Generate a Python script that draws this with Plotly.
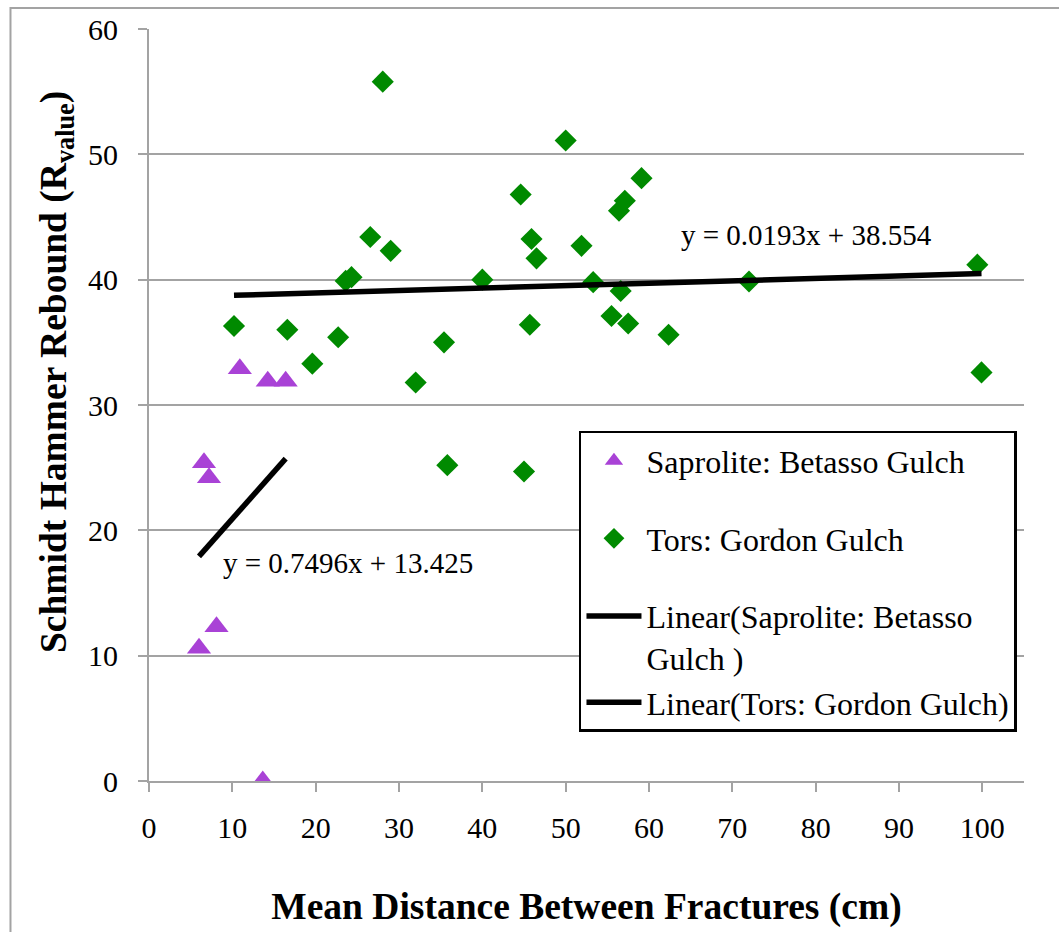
import numpy as np
import plotly.graph_objects as go

# ---- Data ----
sap_x = [6.0, 8.1, 6.6, 7.2, 10.9, 14.25, 16.4, 13.65]
sap_y = [10.6, 12.3, 25.4, 24.2, 32.9, 31.9, 31.9, 0.0]

tor_x = [10.2, 16.6, 19.6, 22.7, 23.6, 24.3, 26.55, 28.05, 29.0, 32.0, 35.4,
         35.8, 40.0, 44.6, 45.0, 45.7, 45.9, 46.5, 50.0, 51.9, 53.3, 55.5,
         56.4, 56.6, 57.1, 57.5, 59.1, 62.35, 72.0, 99.4, 99.9]
tor_y = [36.3, 36.0, 33.3, 35.4, 39.9, 40.2, 43.4, 55.8, 42.3, 31.8, 35.0,
         25.2, 40.0, 46.8, 24.7, 36.4, 43.25, 41.7, 51.1, 42.7, 39.8, 37.1,
         45.5, 39.1, 46.3, 36.5, 48.1, 35.6, 39.85, 41.2, 32.6]

sap_fit = [0.7496, 13.425]   # slope, intercept
tor_fit = [0.0193, 38.554]

x_ticks = [0, 10, 20, 30, 40, 50, 60, 70, 80, 90, 100]
y_ticks = [0, 10, 20, 30, 40, 50, 60]

FONT = "Liberation Serif"
GRID = "#a3a3a3"
PURPLE = "#a942d6"
GREEN = "#008a00"

sx = np.array([min(sap_x), max(sap_x)])
tx = np.array([min(tor_x), max(tor_x)])

fig = go.Figure()
fig.add_trace(go.Scatter(
    x=sap_x, y=sap_y, mode="markers", name="Saprolite: Betasso Gulch",
    legendgroup="g1",
    marker=dict(symbol="triangle-up", size=21, color=PURPLE)))
fig.add_trace(go.Scatter(
    x=tor_x, y=tor_y, mode="markers", name="Tors: Gordon Gulch",
    legendgroup="g2",
    marker=dict(symbol="diamond", size=17, color=GREEN)))
fig.add_trace(go.Scatter(
    x=sx, y=sap_fit[0] * sx + sap_fit[1], mode="lines",
    name="Linear(Saprolite: Betasso<br>Gulch )", legendgroup="g3",
    line=dict(color="black", width=5.5)))
fig.add_trace(go.Scatter(
    x=tx, y=tor_fit[0] * tx + tor_fit[1], mode="lines",
    name="Linear(Tors: Gordon Gulch)", legendgroup="g3",
    line=dict(color="black", width=5.5)))

fig.add_annotation(x=78.94, y=43.53, xref="x", yref="y", showarrow=False,
                   text="y = 0.0193x + 38.554",
                   font=dict(family=FONT, size=29, color="black"))
fig.add_annotation(x=23.82, y=17.4, xref="x", yref="y", showarrow=False,
                   text="y = 0.7496x + 13.425",
                   font=dict(family=FONT, size=29, color="black"))

# y-axis title (placed as a rotated annotation to match its offset position)
fig.add_annotation(x=-0.1063, y=0.5438, xref="paper", yref="paper",
                   showarrow=False, textangle=-90,
                   xanchor="center", yanchor="middle",
                   text="<b>Schmidt Hammer Rebound (R<sub>value</sub>)</b>",
                   font=dict(family=FONT, size=37.5, color="black"))

# outer chart frame
fig.add_shape(type="rect", xref="paper", yref="paper",
              x0=-0.1583, x1=1.6, y0=-0.6, y1=1.0279,
              line=dict(color=GRID, width=2), fillcolor="rgba(0,0,0,0)",
              layer="below")

fig.update_layout(
    width=1059, height=932,
    margin=dict(l=149, r=35, t=28, b=150),
    paper_bgcolor="white", plot_bgcolor="white",
    font=dict(family=FONT, size=30, color="black"),
    showlegend=True,
    legend=dict(
        x=0.4914, y=0.4655, xanchor="left", yanchor="top",
        bordercolor="black", borderwidth=2.5, bgcolor="white",
        font=dict(family=FONT, size=32, color="black"),
        tracegroupgap=33, valign="top", itemwidth=55,
    ),
    xaxis=dict(
        range=[0, 105], tickvals=x_ticks, showgrid=False, zeroline=False,
        showline=True, linecolor=GRID, linewidth=2,
        ticks="outside", ticklen=9, tickcolor=GRID, tickwidth=2,
        tickfont=dict(family=FONT, size=30, color="black"),
        ticklabelstandoff=10,
        title=dict(text="<b>Mean Distance Between Fractures (cm)</b>",
                   font=dict(family=FONT, size=37.5, color="black"),
                   standoff=50),
    ),
    yaxis=dict(
        range=[0, 60], tickvals=y_ticks, showgrid=True, gridcolor=GRID,
        gridwidth=2, zeroline=False,
        showline=True, linecolor=GRID, linewidth=2,
        ticks="outside", ticklen=9, tickcolor=GRID, tickwidth=2,
        tickfont=dict(family=FONT, size=30, color="black"),
        ticklabelstandoff=14,
    ),
)

fig.write_html("out.html")
